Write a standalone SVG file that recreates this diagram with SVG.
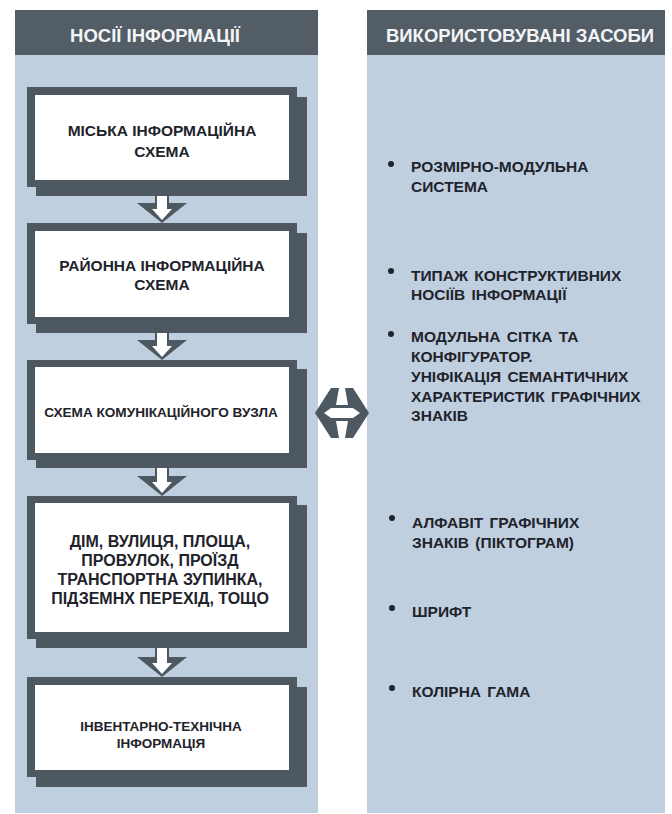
<svg xmlns="http://www.w3.org/2000/svg" width="672" height="814" viewBox="0 0 672 814">
<style>
.panel{fill:#bfcfdf}
.head{fill:#525d66}
.htxt{font-family:"Liberation Sans",Arial,sans-serif;font-weight:bold;font-size:18.5px;fill:#f2f4f6;text-anchor:middle}
.frame{fill:#4d5861}
.inner{fill:#ffffff}
.btxt{font-family:"Liberation Sans",Arial,sans-serif;font-weight:bold;fill:#1f232b;text-anchor:middle}
.rtxt{font-family:"Liberation Sans",Arial,sans-serif;font-weight:bold;font-size:15.5px;word-spacing:2px;fill:#1f232b}
.dot{fill:#1f232b}
.arr{fill:#4d5861}
.arrw{fill:#ffffff}
</style>
<rect width="672" height="814" fill="#ffffff"/>
<g id="panel-left">
<rect class="panel" x="15" y="10" width="303" height="803"/>
<rect class="head" x="15" y="10" width="303" height="45"/>
<text class="htxt" x="155" y="42">НОСІЇ ІНФОРМАЦІЇ</text>
</g>
<g id="panel-right">
<rect class="panel" x="367" y="10" width="298" height="803"/>
<rect class="head" x="367" y="10" width="298" height="45"/>
<text class="htxt" x="520" y="42">ВИКОРИСТОВУВАНІ ЗАСОБИ</text>
</g>
<g id="node1">
<rect class="frame" x="36" y="97" width="271" height="99"/>
<rect class="frame" x="27" y="87" width="270" height="100"/>
<rect class="inner" x="35" y="95" width="254" height="85"/>
<text class="btxt" font-size="15.5" x="162" y="136">МІСЬКА ІНФОРМАЦІЙНА</text>
<text class="btxt" font-size="15.5" x="162" y="157">СХЕМА</text>
</g>
<g id="node2">
<rect class="frame" x="36" y="233" width="271" height="100"/>
<rect class="frame" x="27" y="223" width="270" height="101"/>
<rect class="inner" x="35" y="231" width="254" height="86"/>
<text class="btxt" font-size="15.5" x="162" y="271">РАЙОННА ІНФОРМАЦІЙНА</text>
<text class="btxt" font-size="15.5" x="162" y="290">СХЕМА</text>
</g>
<g id="node3">
<rect class="frame" x="36" y="369" width="271" height="99"/>
<rect class="frame" x="27" y="360" width="270" height="100"/>
<rect class="inner" x="35" y="367" width="254" height="86"/>
<text class="btxt" font-size="13.6" x="161" y="417">СХЕМА КОМУНІКАЦІЙНОГО ВУЗЛА</text>
</g>
<g id="node4">
<rect class="frame" x="36" y="505" width="271" height="143"/>
<rect class="frame" x="27" y="496" width="270" height="143"/>
<rect class="inner" x="35" y="503" width="254" height="129"/>
<text class="btxt" font-size="16" x="160" y="547">ДІМ, ВУЛИЦЯ, ПЛОЩА,</text>
<text class="btxt" font-size="16" x="160" y="566">ПРОВУЛОК, ПРОЇЗД</text>
<text class="btxt" font-size="16" x="160" y="585">ТРАНСПОРТНА ЗУПИНКА,</text>
<text class="btxt" font-size="16" x="160" y="604">ПІДЗЕМНХ ПЕРЕХІД, ТОЩО</text>
</g>
<g id="node5">
<rect class="frame" x="36" y="687" width="271" height="100"/>
<rect class="frame" x="27" y="677" width="270" height="100"/>
<rect class="inner" x="35" y="685" width="254" height="85"/>
<text class="btxt" font-size="13.5" x="161" y="731">ІНВЕНТАРНО-ТЕХНІЧНА</text>
<text class="btxt" font-size="13.5" x="161" y="748">ІНФОРМАЦІЯ</text>
</g>
<g id="means">
<circle class="dot" cx="391" cy="164" r="3"/>
<text class="rtxt" x="411" y="172">РОЗМІРНО-МОДУЛЬНА</text>
<text class="rtxt" x="411" y="192">СИСТЕМА</text>
<circle class="dot" cx="391" cy="271" r="3"/>
<text class="rtxt" x="411" y="281">ТИПАЖ КОНСТРУКТИВНИХ</text>
<text class="rtxt" x="411" y="300">НОСІЇВ ІНФОРМАЦІЇ</text>
<circle class="dot" cx="391" cy="334" r="3"/>
<text class="rtxt" x="411" y="342">МОДУЛЬНА СІТКА ТА</text>
<text class="rtxt" x="411" y="362">КОНФІГУРАТОР.</text>
<text class="rtxt" x="411" y="382">УНІФІКАЦІЯ СЕМАНТИЧНИХ</text>
<text class="rtxt" x="411" y="402">ХАРАКТЕРИСТИК ГРАФІЧНИХ</text>
<text class="rtxt" x="411" y="421">ЗНАКІВ</text>
<circle class="dot" cx="392" cy="518" r="3"/>
<text class="rtxt" x="412" y="528">АЛФАВІТ ГРАФІЧНИХ</text>
<text class="rtxt" x="412" y="548">ЗНАКІВ (ПІКТОГРАМ)</text>
<circle class="dot" cx="392" cy="608" r="3"/>
<text class="rtxt" x="412" y="617">ШРИФТ</text>
<circle class="dot" cx="392" cy="688" r="3"/>
<text class="rtxt" x="412" y="697">КОЛІРНА ГАМА</text>
</g>
<g id="connectors">
<path class="arr" d="M155,196 H169 V203 H187 L162,223 L137,203 H155 Z"/>
<path class="arrw" d="M157,196 H167 V209 H172 L162,220 L152,209 H157 Z"/>
<path class="arr" d="M155,333 H169 V340 H187 L162,360 L137,340 H155 Z"/>
<path class="arrw" d="M157,333 H167 V346 H172 L162,357 L152,346 H157 Z"/>
<path class="arr" d="M155,468 H169 V476 H187 L162,496 L137,476 H155 Z"/>
<path class="arrw" d="M157,468 H167 V482 H172 L162,493 L152,482 H157 Z"/>
<path class="arr" d="M155,648 H169 V657 H187 L162,677 L137,657 H155 Z"/>
<path class="arrw" d="M157,648 H167 V663 H172 L162,674 L152,663 H157 Z"/>
<path class="arr" d="M315,413 L331,388 H339 L336,405 H348 L345,388 H353 L369,413 L353,438 H345 L348,421 H336 L339,438 H331 Z"/>
<path class="arrw" d="M324,413 L331,408 H353 L360,413 L353,418 H331 Z"/>
</g>
</svg>
